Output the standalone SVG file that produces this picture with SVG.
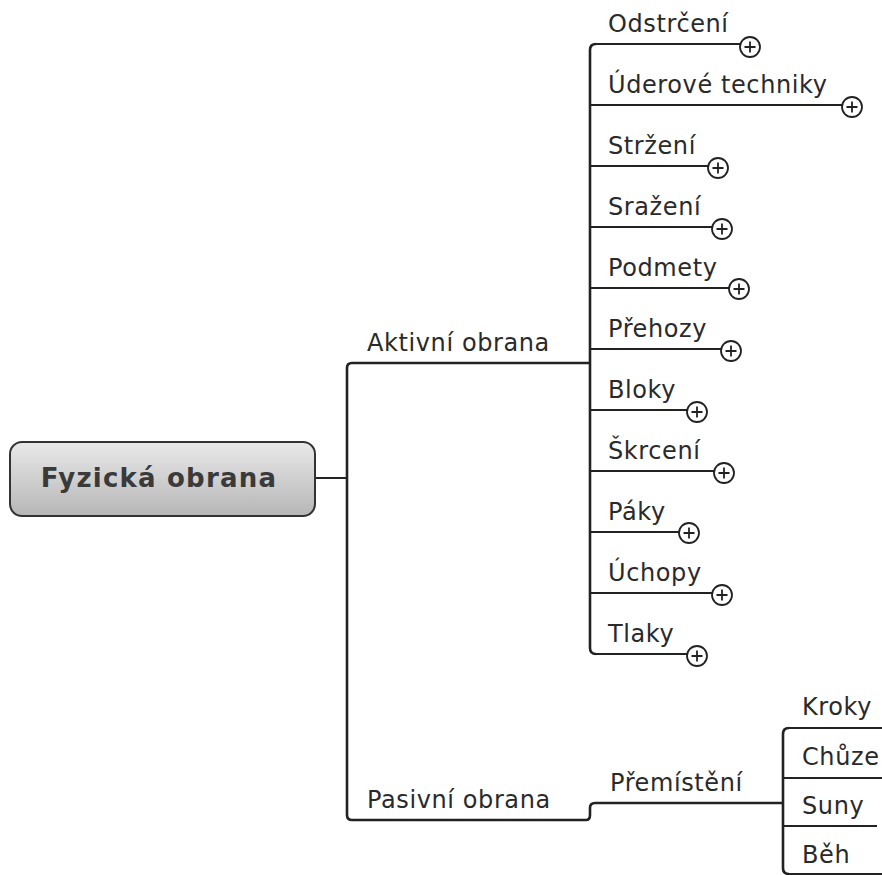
<svg xmlns="http://www.w3.org/2000/svg" width="882" height="875" viewBox="0 0 882 875">
<defs>
<linearGradient id="rootGrad" x1="0" y1="0" x2="0" y2="1">
<stop offset="0" stop-color="#e9e9e9"/>
<stop offset="1" stop-color="#b6b6b6"/>
</linearGradient>
<g id="plus">
<circle cx="0" cy="0" r="10" fill="#fff" stroke="#222" stroke-width="1.8"/>
<path d="M-5.5,0 H5.5 M0,-5.5 V5.5" stroke="#222" stroke-width="1.8" fill="none"/>
</g>
</defs>
<style>
.lbl{font-family:"DejaVu Sans",Verdana,sans-serif;font-size:24px;letter-spacing:0.6px;fill:#2a2a2a}
.root{font-family:"DejaVu Sans",Verdana,sans-serif;font-size:26px;font-weight:bold;letter-spacing:1.2px;fill:#3a3a3a}
.ln{fill:none;stroke:#222;stroke-width:2}
.trunk{fill:none;stroke:#222;stroke-width:2.6}
</style>
<rect width="882" height="875" fill="#fff"/>
<g id="connectors">
<path class="ln" d="M315,478 H347"/>
<path class="trunk" d="M590,363 H352 Q347,363 347,368 V815 Q347,820 352,820 H586 Q590,820 590,815 V808 Q590,803 595,803 H783"/>
<path class="trunk" d="M596,44 Q590,44 590,50 V648 Q590,654 596,654"/>
<path class="ln" d="M594,44 H740"/>
<path class="ln" d="M590,105 H842"/>
<path class="ln" d="M590,166 H708"/>
<path class="ln" d="M590,227 H712"/>
<path class="ln" d="M590,288 H729"/>
<path class="ln" d="M590,349 H721"/>
<path class="ln" d="M590,410 H687"/>
<path class="ln" d="M590,471 H714"/>
<path class="ln" d="M590,532 H679"/>
<path class="ln" d="M590,593 H712"/>
<path class="ln" d="M594,654 H687"/>
<path class="trunk" d="M789,728 Q783,728 783,734 V868 Q783,874 789,874"/>
<path class="ln" d="M787,728 H882"/>
<path class="ln" d="M783,778 H882"/>
<path class="ln" d="M783,826 H877"/>
<path class="ln" d="M787,874 H882"/>
</g>
<g id="root">
<rect x="10" y="442" width="305" height="74" rx="12" ry="12" fill="url(#rootGrad)" stroke="#333" stroke-width="2"/>
<text class="root" x="159" y="487" text-anchor="middle">Fyzická obrana</text>
</g>
<g id="aktivni"><text class="lbl" x="367" y="351">Aktivní obrana</text></g>
<g id="pasivni"><text class="lbl" x="367" y="808">Pasivní obrana</text></g>
<g id="odstrceni"><text class="lbl" x="608" y="32">Odstrčení</text><use href="#plus" x="750" y="47"/></g>
<g id="uderove"><text class="lbl" x="608" y="93">Úderové techniky</text><use href="#plus" x="852" y="107"/></g>
<g id="strzeni"><text class="lbl" x="608" y="154">Stržení</text><use href="#plus" x="718" y="168"/></g>
<g id="srazeni"><text class="lbl" x="608" y="215">Sražení</text><use href="#plus" x="722" y="229"/></g>
<g id="podmety"><text class="lbl" x="608" y="276">Podmety</text><use href="#plus" x="739" y="289"/></g>
<g id="prehozy"><text class="lbl" x="608" y="337">Přehozy</text><use href="#plus" x="731" y="351"/></g>
<g id="bloky"><text class="lbl" x="608" y="398">Bloky</text><use href="#plus" x="697" y="412"/></g>
<g id="skrceni"><text class="lbl" x="608" y="459">Škrcení</text><use href="#plus" x="724" y="473"/></g>
<g id="paky"><text class="lbl" x="608" y="520">Páky</text><use href="#plus" x="689" y="533"/></g>
<g id="uchopy"><text class="lbl" x="608" y="581">Úchopy</text><use href="#plus" x="722" y="595"/></g>
<g id="tlaky"><text class="lbl" x="608" y="642">Tlaky</text><use href="#plus" x="697" y="656"/></g>
<g id="premisteni"><text class="lbl" x="610" y="791">Přemístění</text></g>
<g id="kroky"><text class="lbl" x="802" y="715">Kroky</text></g>
<g id="chuze"><text class="lbl" x="802" y="765">Chůze</text></g>
<g id="suny"><text class="lbl" x="802" y="814">Suny</text></g>
<g id="beh"><text class="lbl" x="802" y="863">Běh</text></g>
</svg>
